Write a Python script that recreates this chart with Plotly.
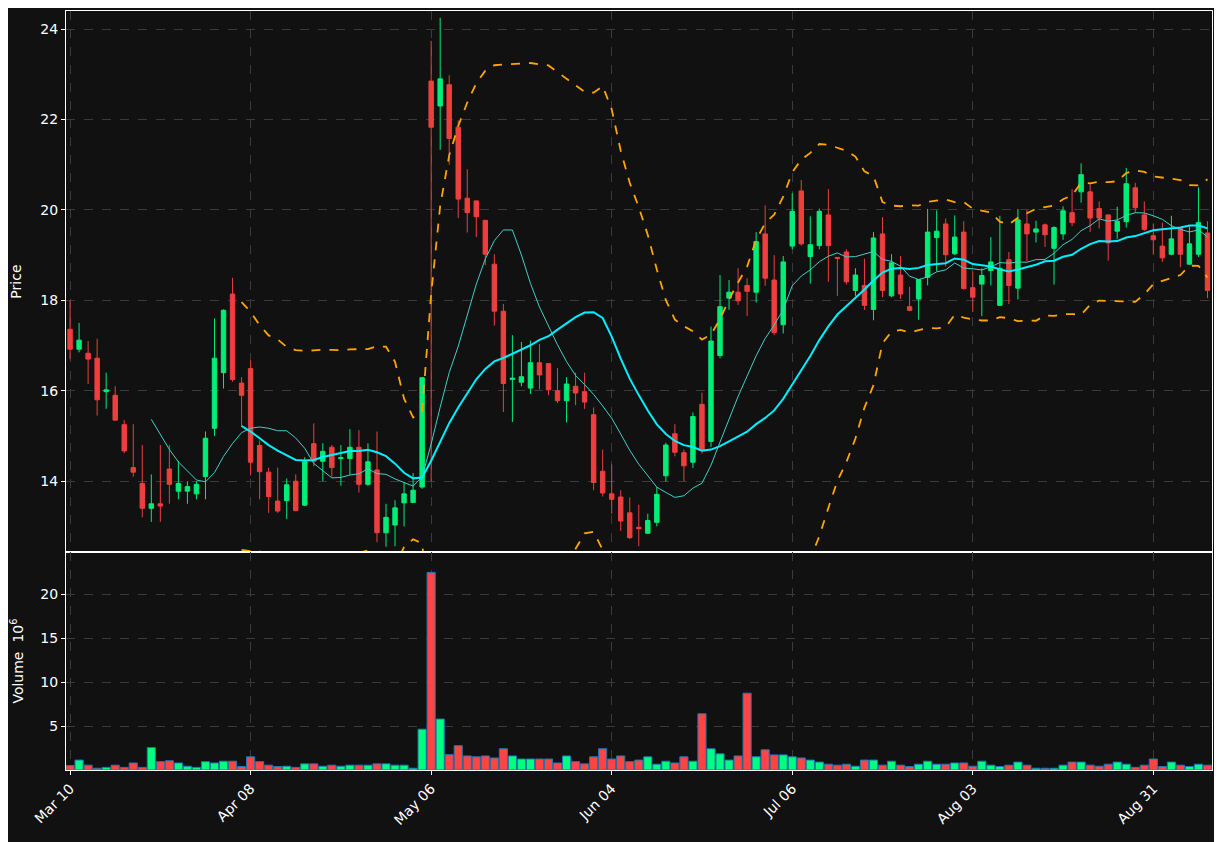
import plotly.graph_objects as go
from plotly.subplots import make_subplots
import pandas as pd

# Daily OHLC + volume (millions)
opens = [17.36, 16.92, 16.83, 16.72, 15.98, 15.9, 15.25, 14.3, 13.95, 13.4,
         13.5, 14.27, 13.78, 13.78, 13.72, 14.1, 15.17, 16.4, 18.14, 16.17,
         16.49, 14.79, 14.2, 13.56, 13.57, 14.0, 13.47, 14.83, 14.44, 14.75,
         14.5, 14.5, 14.75, 13.93, 14.25, 12.86, 13.03, 13.52, 13.53, 13.87,
         22.85, 22.3, 22.77, 21.83, 20.26, 20.2, 19.77, 18.8, 17.76, 16.25,
         16.19, 16.06, 16.62, 16.6, 16.0, 15.78, 16.1, 15.98, 15.47, 14.22,
         13.72, 13.65, 13.3, 12.98, 12.85, 13.09, 14.12, 15.05, 14.63, 14.42,
         15.7, 14.88, 16.78, 18.05, 18.18, 18.33, 18.18, 19.47, 18.45, 17.46,
         19.2, 20.42, 18.97, 19.21, 19.89, 18.95, 19.07, 18.22, 18.33, 17.8,
         19.47, 18.1, 18.56, 17.86, 18.03, 18.51, 19.39, 19.69, 19.03, 19.51,
         18.28, 18.36, 18.66, 17.89, 18.9, 18.27, 19.69, 19.51, 19.67, 19.15,
         19.47, 19.94, 20.4, 20.4, 20.03, 19.89, 19.53, 19.74, 20.49, 19.89,
         19.43, 19.2, 19.02, 19.61, 18.8, 19.02, 19.49]
closes = [16.92, 17.12, 16.7, 15.8, 16.02, 15.35, 14.67, 14.2, 13.4, 13.5,
          13.45, 13.93, 13.95, 13.88, 13.93, 14.95, 16.72, 17.78, 16.25, 15.9,
          14.42, 14.21, 13.66, 13.34, 13.92, 13.35, 14.43, 14.44, 14.66, 14.3,
          14.52, 14.75, 13.93, 14.43, 12.86, 13.2, 13.41, 13.72, 13.8, 16.29,
          21.83, 22.9, 21.58, 20.24, 19.94, 19.85, 19.02, 17.76, 16.16, 16.28,
          16.31, 16.62, 16.35, 16.02, 15.78, 16.15, 15.95, 15.75, 13.97, 13.74,
          13.6, 13.12, 12.75, 12.95, 13.13, 13.71, 14.8, 14.64, 14.34, 15.43,
          14.69, 17.1, 17.86, 18.18, 17.99, 18.2, 19.3, 18.49, 17.29, 18.85,
          19.97, 19.25, 19.23, 19.97, 19.21, 18.93, 18.41, 18.56, 17.89, 19.38,
          18.22, 18.83, 18.14, 17.78, 18.46, 19.51, 19.53, 19.01, 19.4, 18.26,
          18.07, 18.55, 18.85, 18.71, 18.33, 19.78, 19.47, 19.58, 19.45, 19.61,
          19.98, 19.72, 20.78, 19.82, 19.82, 19.27, 19.75, 20.58, 20.05, 19.57,
          19.34, 18.94, 19.36, 19.02, 19.25, 19.72, 18.22]
highs = [18.0, 17.5, 17.1, 17.15, 16.4, 16.1, 15.35, 15.26, 14.8, 14.15,
         14.8, 14.8, 14.45, 14.0, 14.0, 15.1, 17.6, 17.8, 18.5, 16.3,
         16.67, 14.9, 14.3, 14.3, 14.06, 14.15, 14.53, 15.28, 14.84, 14.8,
         14.8, 15.15, 15.13, 14.84, 15.1, 13.5, 13.58, 13.98, 14.18, 16.29,
         23.74, 24.25, 22.98, 21.98, 20.9, 20.2, 19.77, 19.02, 17.92, 17.23,
         17.08, 17.11, 17.04, 16.6, 16.5, 16.3, 16.4, 16.4, 15.63, 14.7,
         14.37, 13.8, 13.64, 13.48, 13.28, 13.87, 14.85, 15.26, 14.7, 15.52,
         15.96, 17.42, 18.56, 18.45, 18.71, 18.49, 19.51, 20.1, 19.0, 18.98,
         20.37, 20.66, 19.86, 20.03, 20.46, 18.95, 19.13, 18.71, 18.92, 19.51,
         19.84, 19.02, 18.98, 18.3, 18.46, 20.02, 19.99, 19.81, 19.88, 19.75,
         18.64, 18.71, 19.4, 19.87, 19.07, 20.02, 20.0, 19.76, 19.7, 19.64,
         20.08, 20.46, 21.03, 20.59, 20.19, 19.89, 20.07, 20.93, 20.6, 20.19,
         19.7, 19.72, 19.87, 19.61, 19.64, 20.5, 19.75]
lows = [16.7, 16.85, 16.15, 15.45, 15.6, 15.35, 14.62, 14.1, 13.2, 13.1,
        13.1, 13.5, 13.6, 13.5, 13.6, 13.6, 15.0, 16.05, 16.2, 15.2,
        14.13, 13.6, 13.3, 13.3, 13.16, 13.33, 13.45, 14.33, 14.0, 14.1,
        13.9, 14.14, 13.75, 13.9, 12.65, 12.55, 12.56, 13.0, 13.53, 13.83,
        14.0, 21.33, 21.0, 19.82, 19.5, 19.4, 18.78, 17.44, 15.53, 15.31,
        16.1, 15.93, 16.03, 15.9, 15.73, 15.3, 15.68, 15.6, 13.8, 13.66,
        13.28, 12.9, 12.72, 12.56, 12.83, 13.0, 13.99, 14.55, 14.0, 14.29,
        14.61, 14.76, 16.72, 17.79, 17.9, 17.65, 17.95, 18.32, 17.23, 17.27,
        19.13, 19.21, 18.37, 19.13, 18.41, 18.1, 18.35, 18.1, 17.79, 17.56,
        18.07, 18.07, 18.03, 17.76, 17.57, 18.33, 18.64, 18.75, 19.0, 18.24,
        17.74, 17.65, 18.33, 17.88, 17.92, 18.02, 18.87, 19.28, 19.18, 18.35,
        19.34, 19.64, 20.16, 19.51, 19.59, 18.88, 19.36, 19.61, 19.93, 19.53,
        19.01, 18.85, 19.0, 18.73, 18.79, 18.96, 18.05]
volumes = [0.5, 1.13, 0.55, 0.2, 0.3, 0.55, 0.3, 0.8, 0.3, 2.55,
           0.95, 1.05, 0.8, 0.43, 0.3, 0.95, 0.8, 1.0, 1.0, 0.4,
           1.5, 0.95, 0.55, 0.4, 0.43, 0.3, 0.7, 0.7, 0.43, 0.55,
           0.43, 0.55, 0.55, 0.55, 0.7, 0.7, 0.55, 0.55, 0.2, 4.65,
           22.5, 5.8, 1.75, 2.77, 1.6, 1.5, 1.6, 1.37, 2.42, 1.6,
           1.25, 1.25, 1.25, 1.25, 0.8, 1.6, 0.95, 0.7, 1.5, 2.42,
           1.25, 1.6, 0.95, 1.13, 1.5, 0.66, 1.0, 0.8, 1.5, 1.0,
           6.4, 2.42, 1.84, 1.13, 1.6, 8.75, 1.5, 2.3, 1.72, 1.72,
           1.5, 1.37, 1.13, 0.9, 0.66, 0.55, 0.66, 0.43, 1.13, 1.13,
           0.55, 1.0, 0.55, 0.4, 0.66, 1.0, 0.66, 0.66, 0.8, 0.8,
           0.43, 1.0, 0.55, 0.4, 0.55, 0.9, 0.55, 0.2, 0.2, 0.2,
           0.55, 0.9, 0.9, 0.55, 0.43, 0.66, 0.9, 0.66, 0.3, 0.55,
           1.25, 0.4, 0.9, 0.55, 0.4, 0.66, 0.55]
tick_idx = [0, 20, 40, 60, 80, 100, 120]
tick_labels = ["Mar 10", "Apr 08", "May 06", "Jun 04", "Jul 06", "Aug 03", "Aug 31"]

UP = '#00ee77'
DOWN = '#ee3f3f'
BG = '#111111'
GRID = '#3a3a3a'

df = pd.DataFrame(dict(o=opens, h=highs, l=lows, c=closes, v=volumes))
x = list(range(len(df)))
ma10 = df['c'].rolling(10).mean()
ma20 = df['c'].rolling(20).mean()
sd20 = df['c'].rolling(20).std(ddof=0)
upper = ma20 + 2 * sd20
lower = ma20 - 2 * sd20

fig = make_subplots(rows=2, cols=1, shared_xaxes=True, vertical_spacing=0,
                    row_heights=[0.713, 0.287])

fig.add_trace(go.Candlestick(
    x=x, open=df['o'], high=df['h'], low=df['l'], close=df['c'],
    increasing=dict(line=dict(color=UP, width=1), fillcolor=UP),
    decreasing=dict(line=dict(color=DOWN, width=1), fillcolor=DOWN),
    whiskerwidth=0, showlegend=False), row=1, col=1)

fig.add_trace(go.Scatter(x=x, y=ma10, mode='lines',
                         line=dict(color='#40d0c8', width=1), showlegend=False), row=1, col=1)
fig.add_trace(go.Scatter(x=x, y=ma20, mode='lines',
                         line=dict(color='#00f0ff', width=2), showlegend=False), row=1, col=1)
for band in (upper, lower):
    fig.add_trace(go.Scatter(x=x, y=band, mode='lines',
                             line=dict(color='#ffa500', width=1.8, dash='dash'),
                             showlegend=False), row=1, col=1)

vol_colors = ['#00ff80' if c >= o else '#ff4444' for o, c in zip(opens, closes)]
fig.add_trace(go.Bar(x=x, y=df['v'], marker=dict(color=vol_colors,
                     line=dict(color='#1f77b4', width=1)),
                     width=0.9, showlegend=False), row=2, col=1)

axis_common = dict(showgrid=True, gridcolor=GRID, griddash='dash', gridwidth=1,
                   showline=True, linecolor='white', linewidth=1, mirror=True,
                   ticks='outside', tickcolor='white', ticklen=4,
                   tickfont=dict(color='white', size=14), zeroline=False)

fig.update_xaxes(**axis_common, range=[-0.45, 126.5])
fig.update_xaxes(rangeslider_visible=False, row=1, col=1)
fig.update_xaxes(tickvals=tick_idx, ticktext=tick_labels, tickangle=-45,
                 showticklabels=True, row=2, col=1)
fig.update_xaxes(tickvals=tick_idx, showticklabels=False, row=1, col=1)

fig.update_yaxes(**axis_common)
fig.update_yaxes(range=[12.43, 24.4], tickvals=[14, 16, 18, 20, 22, 24],
                 title=dict(text='Price', font=dict(color='white', size=14)), row=1, col=1)
fig.update_yaxes(range=[0, 24.8], tickvals=[5, 10, 15, 20],
                 title=dict(text='Volume  10<sup>6</sup>', font=dict(color='white', size=14)),
                 row=2, col=1)

fig.update_layout(
    width=1222, height=842,
    paper_bgcolor=BG, plot_bgcolor=BG,
    margin=dict(l=58, r=18, t=3, b=80),
    font=dict(family='DejaVu Sans', color='white'),
    bargap=0.1,
)

fig.write_html("out.html")
